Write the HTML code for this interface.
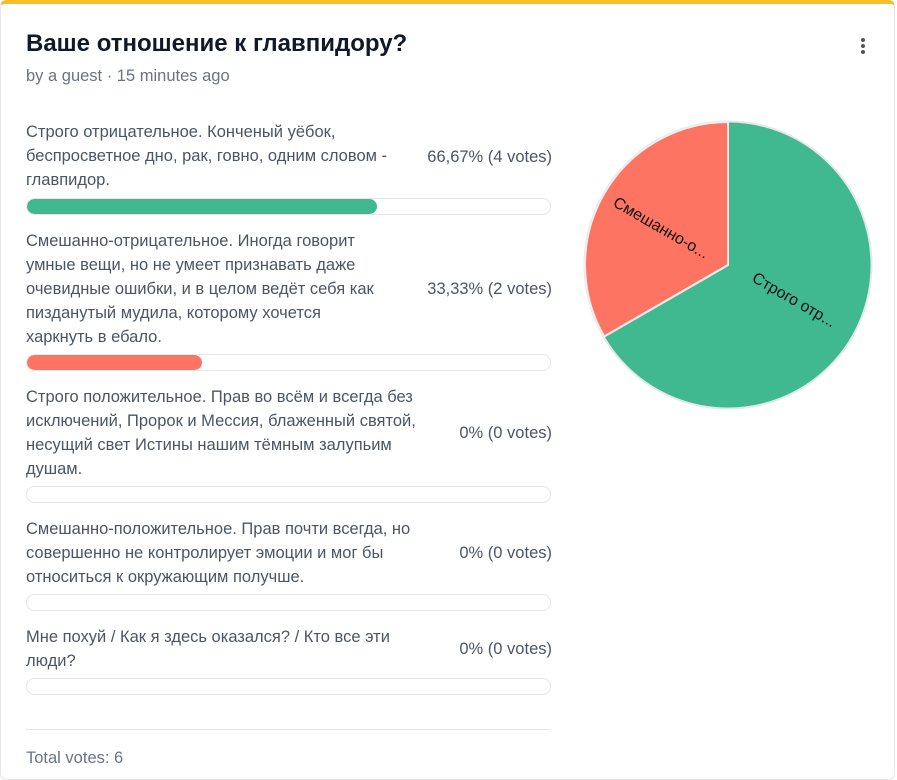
<!DOCTYPE html>
<html><head><meta charset="utf-8"><style>
body{margin:0;background:#fff;font-family:"Liberation Sans","DejaVu Sans",sans-serif;}
.card{position:absolute;left:0;top:0;width:895px;height:780px;border:1px solid #e5e7eb;border-top:4px solid #fbbf24;border-radius:6px;box-sizing:border-box;}
.t{position:absolute;white-space:nowrap;}
.title{left:26px;top:30px;font-size:24px;font-weight:bold;color:#111827;}
.sub{left:26px;top:67px;font-size:16.5px;color:#6b7280;}
.opt{position:absolute;left:26px;white-space:nowrap;font-size:16.5px;line-height:24px;color:#4b5563;}
.pct{position:absolute;right:345px;font-size:16.5px;color:#4b5563;white-space:nowrap;}
.bar{position:absolute;left:26px;width:525px;height:17px;border:1px solid #e5e7eb;border-radius:9px;box-sizing:border-box;overflow:hidden;}
.bar div{height:100%;border-radius:9px;}
.dots{position:absolute;left:861px;top:38px;}
.dots i{display:block;width:4px;height:4px;background:#555;border-radius:50%;margin-bottom:2px;}
</style></head><body>
<div class="card"></div>
<div class="t title">Ваше отношение к главпидору?</div>
<div class="t sub">by a guest · 15 minutes ago</div>
<div class="dots"><i></i><i></i><i></i></div>

<div class="opt" style="top:120px">Строго отрицательное. Конченый уёбок,<br>беспросветное дно, рак, говно, одним словом -<br>главпидор.</div>
<div class="pct" style="top:148px">66,67% (4 votes)</div>
<div class="bar" style="top:198px"><div style="width:350px;background:#40b991"></div></div>

<div class="opt" style="top:229px">Смешанно-отрицательное. Иногда говорит<br>умные вещи, но не умеет признавать даже<br>очевидные ошибки, и в целом ведёт себя как<br>пизданутый мудила, которому хочется<br>харкнуть в ебало.</div>
<div class="pct" style="top:280px">33,33% (2 votes)</div>
<div class="bar" style="top:354px"><div style="width:175px;background:#fd7462"></div></div>

<div class="opt" style="top:385px">Строго положительное. Прав во всём и всегда без<br>исключений, Пророк и Мессия, блаженный святой,<br>несущий свет Истины нашим тёмным залупьим<br>душам.</div>
<div class="pct" style="top:424px">0% (0 votes)</div>
<div class="bar" style="top:486px"></div>

<div class="opt" style="top:517px">Смешанно-положительное. Прав почти всегда, но<br>совершенно не контролирует эмоции и мог бы<br>относиться к окружающим получше.</div>
<div class="pct" style="top:544px">0% (0 votes)</div>
<div class="bar" style="top:594px"></div>

<div class="opt" style="top:625px">Мне похуй / Как я здесь оказался? / Кто все эти<br>люди?</div>
<div class="pct" style="top:640px">0% (0 votes)</div>
<div class="bar" style="top:678px"></div>

<div style="position:absolute;left:26px;top:729px;width:525px;height:1px;background:#e5e7eb"></div>
<div class="t" style="left:26px;top:749px;font-size:16.5px;color:#6b7280">Total votes: 6</div>

<svg style="position:absolute;left:0;top:0" width="897" height="767">
<circle cx="728" cy="265" r="143.5" fill="#40b991" stroke="#e5e7eb" stroke-width="2"/>
<path d="M728,265 L728,122 A143,143 0 0 0 604.2,336.5 Z" fill="#fd7462" stroke="#eee" stroke-width="2"/>
<path d="M728,265 L728,122 M728,265 L604.2,336.5" stroke="#eee" stroke-width="2"/>
<text x="794" y="305" transform="rotate(30 794 300)" font-size="16" text-anchor="middle" fill="#111" font-family="Liberation Sans,sans-serif">Строго отр...</text>
<text x="661" y="233" transform="rotate(30 661 228)" font-size="16" text-anchor="middle" fill="#111" font-family="Liberation Sans,sans-serif">Смешанно-о...</text>
</svg>
</body></html>
